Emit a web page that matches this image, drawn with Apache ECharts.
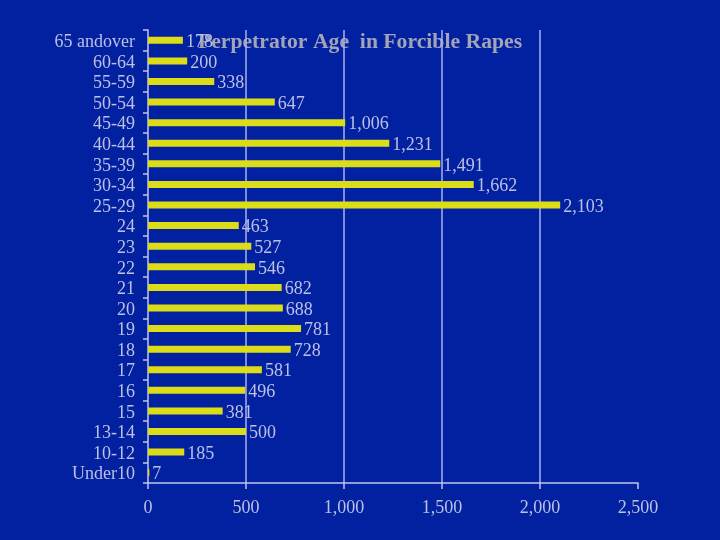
<!DOCTYPE html>
<html><head><meta charset="utf-8">
<script src="https://cdn.jsdelivr.net/npm/echarts@6/dist/echarts.min.js"></script>
<style>html,body{margin:0;padding:0;background:#0221a0;}#c{width:720px;height:540px;}</style>
</head><body><div id="c"></div>
<script>
var categories = ['65 andover','60-64','55-59','50-54','45-49','40-44','35-39','30-34','25-29','24','23','22','21','20','19','18','17','16','15','13-14','10-12','Under10'];
var values = [178,200,338,647,1006,1231,1491,1662,2103,463,527,546,682,688,781,728,581,496,381,500,185,7];
var titleText = 'Perpetrator Age  in Forcible Rapes';
var chart = echarts.init(document.getElementById('c'));
var labelColor = '#bcc0e4';
chart.setOption({
  backgroundColor: '#0221a0',
  title: {text: titleText, left: 355, top: 26, textAlign: 'center', z: -1,
    textStyle: {fontFamily: 'Liberation Serif', fontSize: 21.7, fontWeight: 'bold', color: '#a4a4b8'}},
  grid: {left: 148, right: 82, top: 30, bottom: 57, containLabel: false},
  xAxis: {type: 'value', min: 0, max: 2500, interval: 500,
    axisLine: {show: true, lineStyle: {color: '#c0c4ec', width: 1.5}},
    axisTick: {show: true, length: 6, lineStyle: {color: '#c0c4ec', width: 1.5}},
    splitLine: {show: true, showMinLine: false, showMaxLine: false, lineStyle: {color: '#a8b0ec', width: 1.5}},
    axisLabel: {color: labelColor, fontFamily: 'Liberation Serif', fontSize: 18, margin: 16,
      formatter: function(v){return v.toLocaleString('en-US');}}},
  yAxis: {type: 'category', data: categories, inverse: true,
    axisLine: {show: true, lineStyle: {color: '#c0c4ec', width: 1.5}},
    axisTick: {show: true, length: 5, lineStyle: {color: '#c0c4ec', width: 1.5}},
    axisLabel: {interval: 0, margin: 13,
      formatter: function(v){return '{a|' + v + '}';},
      rich: {a: {color: labelColor, fontFamily: 'Liberation Serif', fontSize: 18, padding: [4, 0, 0, 0]}}}},
  series: [{type: 'bar', data: values, barWidth: 7, itemStyle: {color: '#dcdc18'},
    label: {show: true, position: 'right', distance: 3, color: labelColor, fontFamily: 'Liberation Serif', fontSize: 18, offset: [0, 2],
      formatter: function(p){return p.value.toLocaleString('en-US');}}}]
});
</script></body></html>
